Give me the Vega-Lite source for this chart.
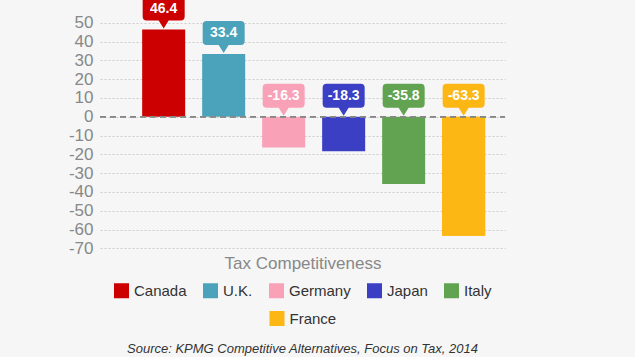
{
  "$schema": "https://vega.github.io/schema/vega-lite/v6.json",
  "width": 405,
  "height": 250,
  "autosize": {"type": "none"},
  "padding": {"left": 100, "top": 4, "right": 130, "bottom": 103},
  "background": "#f6f6f6",
  "title": {
    "text": "Source: KPMG Competitive Alternatives, Focus on Tax, 2014",
    "orient": "bottom",
    "anchor": "middle",
    "fontStyle": "italic",
    "fontWeight": "normal",
    "fontSize": 13,
    "font": "Liberation Sans",
    "color": "#333333",
    "offset": 16
  },
  "data": {
    "values": [
      {"country": "Canada", "value": 46.4},
      {"country": "U.K.", "value": 33.4},
      {"country": "Germany", "value": -16.3},
      {"country": "Japan", "value": -18.3},
      {"country": "Italy", "value": -35.8},
      {"country": "France", "value": -63.3}
    ]
  },
  "encoding": {
    "x": {
      "field": "country",
      "type": "nominal",
      "sort": null,
      "axis": null,
      "scale": {"paddingInner": 0.283, "paddingOuter": 0.5167, "align": 0.68}
    }
  },
  "layer": [
    {
      "mark": {"type": "bar"},
      "encoding": {
        "y": {
          "field": "value",
          "type": "quantitative",
          "scale": {"domain": [-73, 60], "nice": false, "zero": false},
          "axis": {
            "title": null,
            "values": [-70, -60, -50, -40, -30, -20, -10, 0, 10, 20, 30, 40, 50],
            "tickCount": 20,
            "labelExpr": "replace(datum.label, '\u2212', '-')",
            "labelOverlap": false
          }
        },
        "color": {
          "field": "country",
          "type": "nominal",
          "scale": {
            "domain": ["Canada", "U.K.", "Germany", "Japan", "Italy", "France"],
            "range": ["#cc0000", "#4aa3ba", "#f9a1b7", "#3a3fc4", "#62a352", "#fdb714"]
          },
          "legend": {
            "values": ["Canada", "U.K.", "Germany", "Japan", "Italy"],
            "title": "Tax Competitiveness",
            "orient": "bottom",
            "direction": "horizontal",
            "titleAnchor": "middle",
            "titleFontSize": 17,
            "titleFont": "Liberation Sans",
            "titleFontWeight": "normal",
            "titleColor": "#888888",
            "titlePadding": 10,
            "labelFontSize": 15,
            "labelFont": "Liberation Sans",
            "labelColor": "#333333",
            "labelOffset": 5,
            "symbolType": "square",
            "symbolSize": 225,
            "symbolStrokeWidth": 0,
            "columnPadding": 16,
            "offset": 2
          }
        }
      }
    },
    {
      "transform": [{"filter": "datum.country === 'France'"}],
      "mark": {"type": "bar", "fill": "#fdb714", "strokeWidth": 0},
      "encoding": {
        "y": {"field": "value", "type": "quantitative"},
        "stroke": {
          "field": "country",
          "type": "nominal",
          "scale": {"domain": ["France"], "range": ["#fdb714"]},
          "legend": {
            "title": null,
            "orient": "bottom",
            "direction": "horizontal",
            "labelFontSize": 15,
            "labelFont": "Liberation Sans",
            "labelColor": "#333333",
            "labelOffset": 5,
            "symbolType": "square",
            "symbolSize": 225,
            "symbolFillColor": "#fdb714",
            "symbolStrokeWidth": 0,
            "symbolOpacity": 1
          }
        }
      }
    },
    {
      "mark": {"type": "rule", "color": "#888888", "strokeDash": [6, 4], "strokeWidth": 1},
      "encoding": {"y": {"datum": 0}, "x": {"value": 0}, "x2": {"value": 405}}
    },
    {
      "transform": [{"filter": "datum.value > 0"}],
      "mark": {
        "type": "point",
        "shape": "M-0.81,-1.5714L0.81,-1.5714Q1,-1.5714 1,-1.381L1,-0.619Q1,-0.4286 0.81,-0.4286L0.2381,-0.4286L0,-0.0476L-0.2381,-0.4286L-0.81,-0.4286Q-1,-0.4286 -1,-0.619L-1,-1.381Q-1,-1.5714 -0.81,-1.5714Z",
        "size": 1764,
        "filled": true,
        "opacity": 1,
        "strokeWidth": 0
      },
      "encoding": {
        "y": {"field": "value", "type": "quantitative"},
        "color": {"field": "country", "type": "nominal"}
      }
    },
    {
      "transform": [{"filter": "datum.value < 0"}],
      "mark": {
        "type": "point",
        "shape": "M-0.81,-1.5714L0.81,-1.5714Q1,-1.5714 1,-1.381L1,-0.619Q1,-0.4286 0.81,-0.4286L0.2381,-0.4286L0,-0.0476L-0.2381,-0.4286L-0.81,-0.4286Q-1,-0.4286 -1,-0.619L-1,-1.381Q-1,-1.5714 -0.81,-1.5714Z",
        "size": 1764,
        "filled": true,
        "opacity": 1,
        "strokeWidth": 0
      },
      "encoding": {
        "y": {"datum": 0},
        "color": {"field": "country", "type": "nominal"}
      }
    },
    {
      "transform": [{"filter": "datum.value > 0"}],
      "mark": {"type": "text", "dy": -21, "baseline": "middle", "fontSize": 14, "fontWeight": "bold", "font": "Liberation Sans", "color": "white"},
      "encoding": {
        "y": {"field": "value", "type": "quantitative"},
        "text": {"field": "value", "type": "nominal"}
      }
    },
    {
      "transform": [{"filter": "datum.value < 0"}],
      "mark": {"type": "text", "dy": -21, "baseline": "middle", "fontSize": 14, "fontWeight": "bold", "font": "Liberation Sans", "color": "white"},
      "encoding": {
        "y": {"datum": 0},
        "text": {"field": "value", "type": "nominal"}
      }
    }
  ],
  "config": {
    "view": {"stroke": null},
    "axisY": {
      "labelOverlap": false,
      "domain": false,
      "ticks": false,
      "labelPadding": 7,
      "labelFontSize": 17,
      "labelFont": "Liberation Sans",
      "labelColor": "#888888",
      "gridColor": "#cccccc",
      "gridDash": [2, 2],
      "gridWidth": 1
    },
    "legend": {
      "layout": {"bottom": {"anchor": "middle", "direction": "vertical", "center": true, "margin": 12}}
    }
  }
}
